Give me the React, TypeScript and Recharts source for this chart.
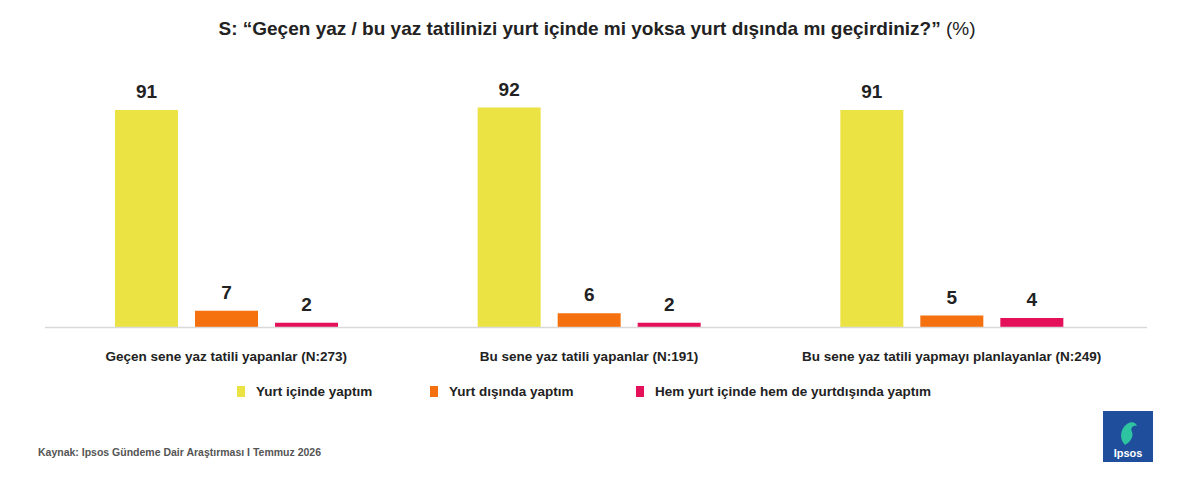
import { Bar, BarChart, LabelList, XAxis, YAxis } from "recharts";

const categories = [
  "Geçen sene yaz tatili yapanlar (N:273)",
  "Bu sene yaz tatili yapanlar (N:191)",
  "Bu sene yaz tatili yapmayı planlayanlar (N:249)",
];
const yurtIci = [91, 92, 91];
const yurtDisi = [7, 6, 5];
const ikisi = [2, 2, 4];

const seriesNames = ["Yurt içinde yaptım", "Yurt dışında yaptım", "Hem yurt içinde hem de yurtdışında yaptım"];
const colors = ["#EBE244", "#F5700E", "#E4105A"];

const data = categories.map((name, i) => ({
  name,
  ic: yurtIci[i],
  dis: yurtDisi[i],
  hem: ikisi[i],
}));

const FONT = "'Liberation Sans', Arial, Helvetica, sans-serif";

const labelStyle = { fontSize: 19, fontWeight: 700, fill: "#222", fontFamily: FONT };

const App = () => {
  return (
    <div style={{ position: "fixed", left: 0, top: 0, width: 1200, height: 486, background: "#fff", fontFamily: FONT }}>
      <div
        style={{
          position: "absolute",
          top: 18,
          left: 0,
          width: 1194,
          textAlign: "center",
          fontSize: 19,
          color: "#222",
        }}
      >
        <b>S: “Geçen yaz / bu yaz tatilinizi yurt içinde mi yoksa yurt dışında mı geçirdiniz?”</b> (%)
      </div>

      <div style={{ position: "absolute", left: 0, top: 0 }}>
        <BarChart
          width={1200}
          height={486}
          data={data}
          margin={{ top: 88.5, right: 53, bottom: 128.5, left: 45 }}
          barSize={63}
          barGap={17}
        >
          <XAxis
            dataKey="name"
            height={30}
            axisLine={{ stroke: "#d9d9d9", strokeWidth: 1.5 }}
            tickLine={false}
            tickMargin={18}
            padding={{ left: 0, right: 14 }}
            interval={0}
            tick={{ fontSize: 13.5, fontWeight: 600, fill: "#222", fontFamily: FONT }}
          />
          <YAxis hide domain={[0, 100]} />
          <Bar dataKey="ic" fill={colors[0]} isAnimationActive={false}>
            <LabelList dataKey="ic" position="top" offset={12} style={labelStyle} />
          </Bar>
          <Bar dataKey="dis" fill={colors[1]} isAnimationActive={false}>
            <LabelList dataKey="dis" position="top" offset={12} style={labelStyle} />
          </Bar>
          <Bar dataKey="hem" fill={colors[2]} isAnimationActive={false}>
            <LabelList dataKey="hem" position="top" offset={12} style={labelStyle} />
          </Bar>
        </BarChart>
      </div>

      {/* legend */}
      {seriesNames.map((s, i) => (
        <div
          key={s}
          style={{
            position: "absolute",
            top: 384,
            left: [237, 430, 636][i],
            display: "flex",
            alignItems: "center",
            fontSize: 13.5,
            fontWeight: 700,
            color: "#222",
            whiteSpace: "nowrap",
          }}
        >
          <span style={{ display: "inline-block", width: 8, height: 11, background: colors[i], marginRight: 11 }} />
          {s}
        </div>
      ))}

      <div style={{ position: "absolute", left: 38, top: 446, fontSize: 10.5, fontWeight: 600, color: "#555" }}>
        Kaynak: Ipsos Gündeme Dair Araştırması I Temmuz 2026
      </div>

      {/* logo */}
      <svg style={{ position: "absolute", left: 1103, top: 411 }} width={50} height={51}>
        <rect width={50} height={51} fill="#1F4E9C" />
        <path
          d="M22 34 C16 28 17 18 24 13 C28 10 33 11 34 15 C30 14 27 17 29 21 C31 26 27 31 22 34 Z"
          fill="#2EC3A1"
        />
        <text x={25} y={46} textAnchor="middle" fill="#fff" fontSize={11} fontWeight={700} fontFamily={FONT}>
          Ipsos
        </text>
      </svg>
    </div>
  );
};

export default App;
